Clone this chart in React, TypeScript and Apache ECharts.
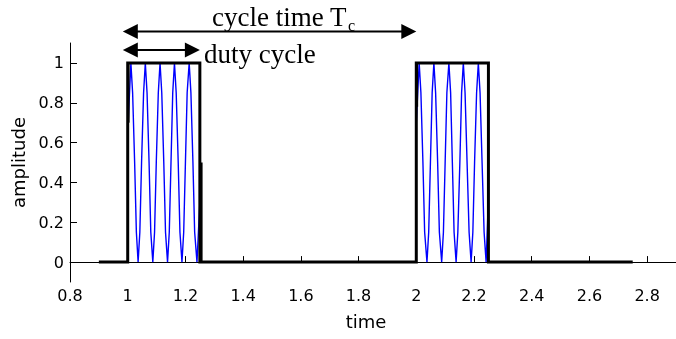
import React, { useEffect, useRef } from "react";
import * as echarts from "echarts";

const xTicks = [0.8, 1, 1.2, 1.4, 1.6, 1.8, 2, 2.2, 2.4, 2.6, 2.8];
const yTicks = [0, 0.2, 0.4, 0.6, 0.8, 1];

// black rectangular envelope (time, amplitude)
const squareT = [0.9, 1.0, 1.0, 1.25, 1.25, 2.0, 2.0, 2.25, 2.25, 2.75];
const squareA = [0, 0, 1, 1, 0, 0, 1, 1, 0, 0];

// blue carrier inside first pulse
const pulse1T = [1.0, 1.011, 1.017, 1.024, 1.03, 1.036, 1.042, 1.048, 1.055, 1.061, 1.067, 1.074, 1.08, 1.087, 1.093, 1.099, 1.106, 1.112, 1.118, 1.125, 1.131, 1.138, 1.144, 1.15, 1.156, 1.162, 1.168, 1.175, 1.181, 1.188, 1.194, 1.2, 1.206, 1.213, 1.219, 1.226, 1.232, 1.24, 1.245, 1.25];
const pulse1A = [0.65, 1, 0.85, 0.5, 0.15, 0, 0.15, 0.5, 0.85, 1, 0.85, 0.5, 0.15, 0, 0.15, 0.5, 0.85, 1, 0.85, 0.5, 0.15, 0, 0.15, 0.5, 0.85, 1, 0.85, 0.5, 0.15, 0, 0.15, 0.5, 0.85, 1, 0.85, 0.5, 0.15, 0, 0.15, 0.3];

// blue carrier inside second pulse
const pulse2T = [2.0, 2.01, 2.016, 2.023, 2.029, 2.037, 2.043, 2.049, 2.055, 2.061, 2.067, 2.074, 2.08, 2.088, 2.094, 2.1, 2.106, 2.113, 2.119, 2.125, 2.131, 2.138, 2.144, 2.151, 2.157, 2.163, 2.169, 2.176, 2.183, 2.19, 2.196, 2.202, 2.209, 2.215, 2.221, 2.228, 2.235, 2.242, 2.247, 2.25];
const pulse2A = [0.7, 1, 0.85, 0.5, 0.15, 0, 0.15, 0.5, 0.85, 1, 0.85, 0.5, 0.15, 0, 0.15, 0.5, 0.85, 1, 0.85, 0.5, 0.15, 0, 0.15, 0.5, 0.85, 1, 0.85, 0.5, 0.15, 0, 0.15, 0.5, 0.85, 1, 0.85, 0.5, 0.15, 0, 0.2, 0.35];

// short dark strokes along the pulse edges: [time, from, to]
const edgeT = [1.003, 1.256, 2.003];
const edgeFrom = [1, 0.5, 1];
const edgeTo = [0.7, 0, 0.78];

// annotation arrows (time extent)
const arrowLabels = ["cycle time T", "duty cycle"];
const arrowFrom = [0.983, 0.983];
const arrowTo = [2.0, 1.25];

const zip = (t: number[], a: number[]) => t.map((v, i) => [v, a[i]]);

export default function App() {
  const ref = useRef<HTMLDivElement>(null);
  useEffect(() => {
    if (!ref.current) return;
    const chart = echarts.init(ref.current, undefined, { renderer: "svg" });
    const axisFont = "DejaVu Sans";
    const option: any = {
      animation: false,
      grid: { left: 70, top: 43, right: -2, bottom: 57 },
      xAxis: {
        type: "value",
        min: 0.8,
        max: 2.9,
        name: "time",
        nameLocation: "middle",
        nameGap: 30,
        nameTextStyle: { fontFamily: axisFont, fontSize: 18, color: "#000", padding: [0, 14, 0, 0] },
        axisLine: { show: true, lineStyle: { color: "#000", width: 1 } },
        axisTick: { show: true, inside: true, length: 6, customValues: xTicks, lineStyle: { color: "#000" } },
        axisLabel: {
          customValues: xTicks,
          formatter: (v: number) => String(v),
          fontFamily: axisFont,
          fontSize: 16,
          color: "#000",
          margin: 5,
        },
        splitLine: { show: false },
      },
      yAxis: {
        type: "value",
        min: -0.1,
        max: 1.1,
        name: "amplitude",
        nameLocation: "middle",
        nameRotate: 90,
        nameGap: 38,
        nameTextStyle: { fontFamily: axisFont, fontSize: 18, color: "#000" },
        axisLine: { show: true, lineStyle: { color: "#000", width: 1 } },
        axisTick: { show: true, inside: true, length: 7, customValues: yTicks, lineStyle: { color: "#000" } },
        axisLabel: {
          customValues: yTicks,
          formatter: (v: number) => String(v),
          fontFamily: axisFont,
          fontSize: 16,
          color: "#000",
          margin: 6,
        },
        splitLine: { show: false },
      },
      series: [
        {
          type: "line",
          data: zip(pulse1T, pulse1A),
          showSymbol: false,
          lineStyle: { color: "#0000ff", width: 1.4 },
          z: 1,
        },
        {
          type: "line",
          data: zip(pulse2T, pulse2A),
          showSymbol: false,
          lineStyle: { color: "#0000ff", width: 1.4 },
          z: 1,
        },
        {
          type: "line",
          data: zip(squareT, squareA),
          showSymbol: false,
          lineStyle: { color: "#000", width: 3, join: "miter", cap: "butt" },
          z: 3,
        },
        ...edgeT.map((t, i) => ({
          type: "line",
          data: [
            [t, edgeFrom[i]],
            [t, edgeTo[i]],
          ],
          showSymbol: false,
          lineStyle: { color: "#000", width: 2, cap: "butt" },
          z: 3,
        })),
      ],
    };
    chart.setOption(option);

    const levels = [31.5, 50];
    const head = 15;
    const half = 7.5;
    const elements: any[] = [];
    arrowFrom.forEach((f, i) => {
      const x0 = chart.convertToPixel({ gridIndex: 0 }, [f, 0])[0];
      const x1 = chart.convertToPixel({ gridIndex: 0 }, [arrowTo[i], 0])[0];
      const y = levels[i];
      elements.push({
        type: "line",
        shape: { x1: x0 + head - 1, y1: y, x2: x1 - head + 1, y2: y },
        style: { stroke: "#000", lineWidth: 2 },
      });
      elements.push({
        type: "polygon",
        shape: { points: [[x0, y], [x0 + head, y - half], [x0 + head, y + half]] },
        style: { fill: "#000" },
      });
      elements.push({
        type: "polygon",
        shape: { points: [[x1, y], [x1 - head, y - half], [x1 - head, y + half]] },
        style: { fill: "#000" },
      });
    });
    const serif = "Liberation Serif";
    elements.push({
      type: "text",
      x: 212,
      y: 16.5,
      style: { text: arrowLabels[0], font: `27px "${serif}"`, fill: "#000", verticalAlign: "middle", align: "left" },
    });
    elements.push({
      type: "text",
      x: 348,
      y: 25,
      style: { text: "c", font: `16px "${serif}"`, fill: "#000", verticalAlign: "middle", align: "left" },
    });
    elements.push({
      type: "text",
      x: 204,
      y: 54,
      style: { text: arrowLabels[1], font: `27px "${serif}"`, fill: "#000", verticalAlign: "middle", align: "left" },
    });
    chart.setOption({ graphic: { elements } });

    return () => chart.dispose();
  }, []);
  return <div ref={ref} style={{ position: "fixed", left: 0, top: 0, width: 676, height: 339 }} />;
}
